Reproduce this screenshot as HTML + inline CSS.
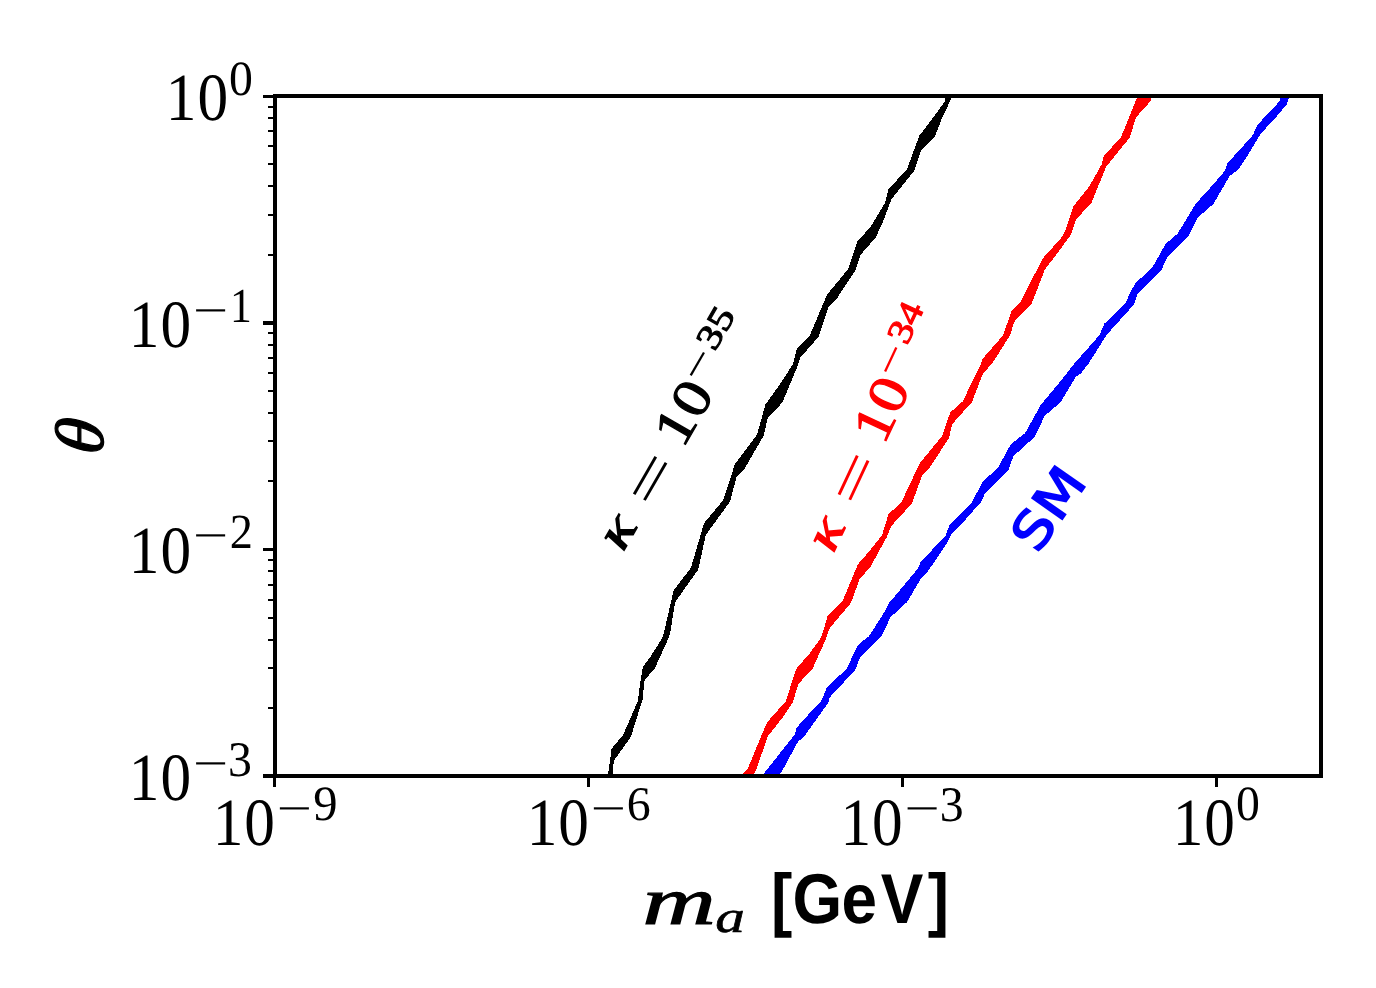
<!DOCTYPE html>
<html lang="en"><head><meta charset="utf-8"><title>theta vs m_a</title>
<style>
html,body{margin:0;padding:0;background:#fff;}
body{width:1376px;height:988px;overflow:hidden;font-family:"Liberation Serif",serif;}
svg{display:block;}
svg text{white-space:pre;}
</style></head><body>
<svg width="1376" height="988" viewBox="0 0 1376 988" text-rendering="geometricPrecision">
<rect x="0" y="0" width="1376" height="988" fill="#fff"/>
<g shape-rendering="crispEdges">
<polygon fill="#000" points="607.9,776.0 611.6,748.6 623.2,734.8 637.8,701.2 640.7,679.4 642.9,667.0 650.9,656.0 661.1,640.0 663.2,635.6 673.7,590.4 690.9,567.8 704.0,523.3 723.3,500.0 734.9,464.2 756.8,435.1 765.5,404.5 781.5,381.9 793.0,364.0 796.7,349.0 809.8,335.2 827.3,294.3 848.4,268.8 857.5,241.1 870.3,227.3 885.1,202.6 888.3,189.5 907.0,169.1 919.4,135.6 936.1,113.7 944.9,101.3 945.6,96.0 952.4,96.0 941.5,119.5 934.9,136.3 921.1,150.1 914.5,170.5 896.3,193.1 891.2,199.7 883.7,220.0 875.7,237.5 860.4,255.0 855.3,270.3 836.3,299.4 829.0,306.0 818.8,336.6 800.2,357.8 797.1,367.3 782.5,402.3 767.7,418.3 763.6,435.8 744.6,468.6 736.6,476.6 730.1,501.5 705.8,535.0 698.2,569.7 675.2,602.0 670.1,633.4 667.7,640.0 654.8,668.4 644.6,680.1 642.5,699.8 630.8,737.0 613.7,761.0 612.6,776.0"/>
<polygon fill="#f00" points="740.7,776.0 747.9,768.3 765.4,726.0 768.3,720.9 785.8,701.2 796.0,669.2 809.9,653.1 819.4,640.0 822.3,634.1 827.4,616.6 842.7,600.6 858.0,564.1 868.9,551.7 882.1,535.0 888.6,513.8 901.0,503.0 919.6,463.5 942.2,435.8 950.2,412.5 962.6,401.5 980.1,365.8 982.8,358.5 1003.2,335.2 1011.7,310.4 1020.7,301.6 1042.6,258.6 1061.5,237.5 1066.0,229.0 1073.3,206.3 1089.1,186.6 1101.5,164.7 1103.9,156.0 1121.1,137.0 1132.8,107.9 1137.5,96.0 1152.7,96.0 1149.8,102.0 1136.0,117.3 1129.7,137.7 1120.7,148.7 1106.1,166.9 1091.5,202.6 1076.2,219.4 1070.6,235.3 1053.8,257.9 1044.8,269.6 1031.9,303.1 1014.1,322.0 1010.1,335.2 993.5,361.5 982.5,374.6 972.0,402.0 952.2,424.1 949.0,438.0 928.6,469.3 922.0,475.9 911.8,503.6 907.1,508.7 891.1,526.2 886.7,537.2 869.9,567.8 859.7,578.7 851.0,602.8 829.6,628.3 825.5,640.0 812.3,669.2 798.5,683.7 792.7,702.7 781.7,718.7 767.4,736.9 756.9,768.3 753.3,776.0"/>
<polygon fill="#00f" points="761.8,776.0 794.6,734.8 796.8,727.5 809.9,712.9 821.5,700.5 827.1,686.9 846.3,669.2 858.0,645.1 864.0,640.0 868.9,636.3 884.3,612.2 888.6,603.5 904.7,584.5 917.8,568.5 920.7,562.0 945.5,535.7 949.5,525.0 952.8,521.9 972.0,502.0 982.3,482.4 998.3,467.1 1010.7,444.5 1025.3,432.9 1040.6,405.2 1058.8,383.3 1074.0,364.0 1099.4,335.2 1104.5,323.5 1125.7,303.1 1129.5,294.1 1135.3,283.2 1152.1,267.9 1165.7,243.8 1177.6,233.6 1195.8,203.7 1215.5,181.9 1224.8,170.8 1227.5,163.2 1243.7,145.3 1252.9,135.0 1257.8,124.3 1271.8,110.0 1279.4,101.3 1280.7,96.0 1289.4,96.0 1286.6,104.4 1277.4,115.6 1266.1,127.9 1260.0,135.0 1247.7,155.5 1238.0,169.8 1229.6,176.0 1213.6,203.7 1197.8,217.6 1188.8,235.8 1167.2,257.4 1161.1,270.8 1137.1,294.8 1134.0,304.5 1107.0,334.4 1088.5,363.6 1080.5,373.8 1075.8,376.8 1060.5,402.3 1044.5,416.1 1035.0,436.5 1013.4,456.2 1008.1,470.8 984.7,494.1 981.0,502.0 959.6,526.2 950.8,535.0 947.2,543.0 926.8,572.9 921.7,577.3 907.1,602.0 890.4,617.3 881.6,636.3 876.0,641.5 859.7,658.2 855.3,669.9 829.5,697.6 828.4,702.7 804.3,736.2 797.8,742.0 783.2,769.0 778.8,776.0"/>
</g>
<g fill="#000" shape-rendering="crispEdges">
<rect x="273" y="776.0" width="3" height="11"/>
<rect x="587" y="776.0" width="3" height="11"/>
<rect x="901" y="776.0" width="3" height="11"/>
<rect x="1215" y="776.0" width="3" height="11"/>
<rect x="263" y="95" width="12" height="3"/>
<rect x="268" y="254" width="7" height="2"/>
<rect x="268" y="214" width="7" height="2"/>
<rect x="268" y="185" width="7" height="2"/>
<rect x="268" y="163" width="7" height="2"/>
<rect x="268" y="145" width="7" height="2"/>
<rect x="268" y="130" width="7" height="2"/>
<rect x="268" y="117" width="7" height="2"/>
<rect x="268" y="106" width="7" height="2"/>
<rect x="263" y="321" width="12" height="4"/>
<rect x="268" y="480" width="7" height="2"/>
<rect x="268" y="440" width="7" height="2"/>
<rect x="268" y="412" width="7" height="2"/>
<rect x="268" y="390" width="7" height="2"/>
<rect x="268" y="372" width="7" height="2"/>
<rect x="268" y="357" width="7" height="2"/>
<rect x="268" y="344" width="7" height="2"/>
<rect x="268" y="332" width="7" height="2"/>
<rect x="263" y="548" width="12" height="3"/>
<rect x="268" y="707" width="7" height="2"/>
<rect x="268" y="667" width="7" height="2"/>
<rect x="268" y="639" width="7" height="2"/>
<rect x="268" y="617" width="7" height="2"/>
<rect x="268" y="599" width="7" height="2"/>
<rect x="268" y="584" width="7" height="2"/>
<rect x="268" y="570" width="7" height="2"/>
<rect x="268" y="559" width="7" height="2"/>
<rect x="263" y="774" width="12" height="4"/>
<rect x="273.0" y="94.0" width="1050.0" height="4"/>
<rect x="273.0" y="774.0" width="1050.0" height="4"/>
<rect x="273.0" y="94.0" width="4" height="684.0"/>
<rect x="1319.0" y="94.0" width="4" height="684.0"/>
</g>
<text transform="matrix(0.6135 0 0 0.6756 0 120.22)" x="270.28 321.78" font-family="Liberation Serif, serif" font-size="100">10</text>
<text transform="matrix(0.4776 0 0 0.4919 229.11 95.31)" font-family="Liberation Serif, serif" font-size="100">0</text>
<text transform="matrix(0.6135 0 0 0.6756 0 346.89)" x="209.97 261.47" font-family="Liberation Serif, serif" font-size="100">10</text>
<text transform="matrix(0.6237 0 0 0.4400 192.88 324.50)" font-family="Liberation Serif, serif" font-size="100">−</text>
<text transform="matrix(0.4369 0 0 0.4894 229.88 322.17)" font-family="Liberation Serif, serif" font-size="100">1</text>
<text transform="matrix(0.6135 0 0 0.6756 0 572.76)" x="209.97 261.47" font-family="Liberation Serif, serif" font-size="100">10</text>
<text transform="matrix(0.6237 0 0 0.4400 192.88 550.36)" font-family="Liberation Serif, serif" font-size="100">−</text>
<text transform="matrix(0.4625 0 0 0.4921 229.72 548.03)" font-family="Liberation Serif, serif" font-size="100">2</text>
<text transform="matrix(0.6135 0 0 0.6756 0 800.22)" x="209.97 261.47" font-family="Liberation Serif, serif" font-size="100">10</text>
<text transform="matrix(0.6237 0 0 0.4400 192.88 777.83)" font-family="Liberation Serif, serif" font-size="100">−</text>
<text transform="matrix(0.4776 0 0 0.4981 227.93 775.70)" font-family="Liberation Serif, serif" font-size="100">3</text>
<text transform="matrix(0.6135 0 0 0.6756 0 845.02)" x="346.73 398.22" font-family="Liberation Serif, serif" font-size="100">10</text>
<text transform="matrix(0.6237 0 0 0.4400 276.78 822.63)" font-family="Liberation Serif, serif" font-size="100">−</text>
<text transform="matrix(0.4865 0 0 0.4937 313.32 820.41)" font-family="Liberation Serif, serif" font-size="100">9</text>
<text transform="matrix(0.6135 0 0 0.6756 0 845.02)" x="858.54 910.04" font-family="Liberation Serif, serif" font-size="100">10</text>
<text transform="matrix(0.6237 0 0 0.4400 590.78 822.63)" font-family="Liberation Serif, serif" font-size="100">−</text>
<text transform="matrix(0.4795 0 0 0.4833 626.66 820.42)" font-family="Liberation Serif, serif" font-size="100">6</text>
<text transform="matrix(0.6135 0 0 0.6756 0 845.02)" x="1370.03 1421.52" font-family="Liberation Serif, serif" font-size="100">10</text>
<text transform="matrix(0.6237 0 0 0.4400 904.58 822.63)" font-family="Liberation Serif, serif" font-size="100">−</text>
<text transform="matrix(0.4776 0 0 0.4981 939.63 820.50)" font-family="Liberation Serif, serif" font-size="100">3</text>
<text transform="matrix(0.6135 0 0 0.6756 0 845.02)" x="1911.51 1963.00" font-family="Liberation Serif, serif" font-size="100">10</text>
<text transform="matrix(0.4776 0 0 0.4919 1236.01 820.11)" font-family="Liberation Serif, serif" font-size="100">0</text>
<text transform="matrix(1.0148 0 0 0.6723 642.59 923.70)" font-family="Liberation Serif, serif" font-size="100" font-style="italic" stroke="#000" stroke-width="1.6">m</text>
<text transform="matrix(0.5919 0 0 0.4500 715.32 932.35)" font-family="Liberation Serif, serif" font-size="100" font-style="italic" stroke="#000" stroke-width="1.4">a</text>
<text transform="matrix(0.6389 0 0 0.7046 0 923.08)" x="1206.82 1240.25 1317.02 1378.61 1452.03" font-family="Liberation Sans, sans-serif" font-size="100" font-weight="bold">[GeV]</text>
<g transform="translate(103.40 456.00) rotate(-90) scale(0.7200 0.6860) skewX(-6)"><text font-family="Liberation Serif, serif" font-size="100" font-style="italic" stroke="#000" stroke-width="1.8">θ</text></g>
<g transform="translate(622.30 554.20) rotate(-60)"><text transform="matrix(0.6298 0 0 0.4935 2.14 -0.30)" font-family="Liberation Serif, serif" font-size="100" font-style="italic" stroke="#000" stroke-width="3.0">κ</text><text transform="matrix(0.9290 0 0 0.5920 53.15 5.78)" font-family="Liberation Serif, serif" font-size="100">=</text><text transform="matrix(0.6328 0 0 0.5407 0 -0.04)" x="191.39 243.17" font-family="Liberation Serif, serif" font-size="100" stroke="#000" stroke-width="2.2">10</text><text transform="matrix(0.5699 0 0 0.4600 186.15 -14.85)" font-family="Liberation Serif, serif" font-size="100">−</text><text transform="matrix(0.4252 0 0 0.3480 221.38 -21.05)" font-family="Liberation Serif, serif" font-size="100" stroke="#000" stroke-width="3.2">35</text></g>
<g transform="translate(832.55 555.60) rotate(-65)"><text transform="matrix(0.6298 0 0 0.4935 2.14 -0.30)" font-family="Liberation Serif, serif" font-size="100" font-style="italic" fill="#f00" stroke="#f00" stroke-width="3.0">κ</text><text transform="matrix(0.9290 0 0 0.5920 53.15 5.78)" font-family="Liberation Serif, serif" font-size="100" fill="#f00">=</text><text transform="matrix(0.6328 0 0 0.5407 0 -0.04)" x="191.39 243.17" font-family="Liberation Serif, serif" font-size="100" fill="#f00" stroke="#f00" stroke-width="2.2">10</text><text transform="matrix(0.5699 0 0 0.4600 186.15 -14.85)" font-family="Liberation Serif, serif" font-size="100" fill="#f00">−</text><text transform="matrix(0.4139 0 0 0.3480 221.43 -21.05)" font-family="Liberation Serif, serif" font-size="100" fill="#f00" stroke="#f00" stroke-width="3.2">34</text></g>
<g transform="translate(1039.10 553.60) rotate(-55)"><text transform="matrix(0.5886 0 0 0.5069 0 -0.66)" x="-3.37 60.51" font-family="DejaVu Sans, sans-serif" font-size="100" fill="#00f" stroke="#00f" stroke-width="3.2">SM</text></g>
</svg>
</body></html>
